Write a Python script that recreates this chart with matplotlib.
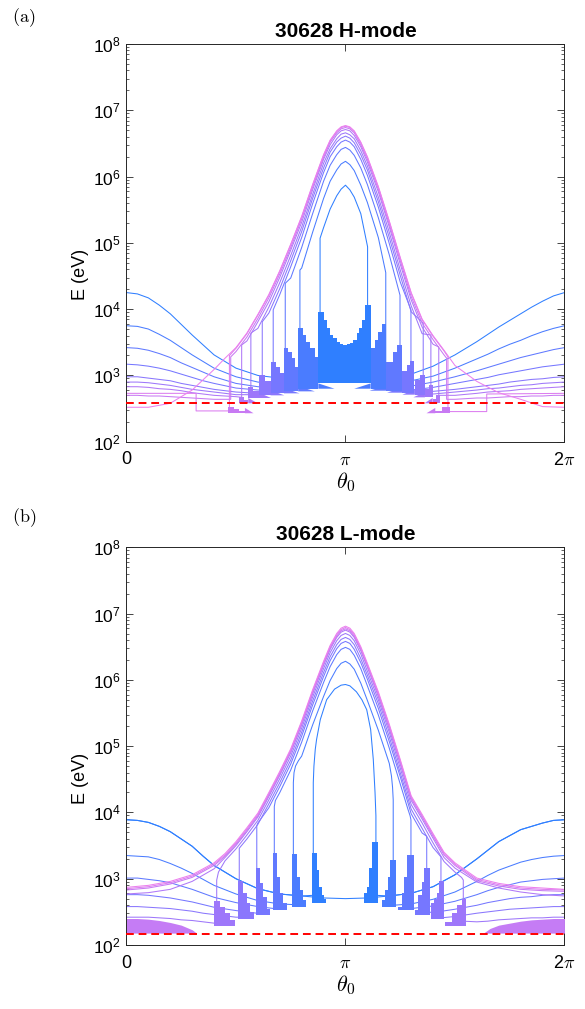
import numpy as np
import matplotlib
matplotlib.use("Agg")
import matplotlib.pyplot as plt
from matplotlib.ticker import LogLocator, NullFormatter

plt.rcParams["font.family"] = ["Liberation Sans", "DejaVu Sans"]

nan = np.nan

# -------------------------------
# Data (theta in units of pi, energies as log10(E / eV))
# -------------------------------
theta_low = [0.0, 0.05, 0.1, 0.15, 0.2, 0.25, 0.3, 0.35, 0.4, 0.5, 0.6, 0.7, 0.8, 0.9, 1.0,
             1.1, 1.2, 1.3, 1.4, 1.5, 1.6, 1.65, 1.7, 1.75, 1.8, 1.85, 1.9, 1.95, 2.0]
theta_up = [0.45, 0.5, 0.55, 0.6, 0.65, 0.7, 0.75, 0.8, 0.85, 0.9, 0.93, 0.96, 0.98,
            1.0, 1.02, 1.04, 1.07, 1.1, 1.15, 1.2, 1.25, 1.3, 1.35, 1.4, 1.45, 1.5]
theta_full = [0.0, 0.1, 0.2, 0.3, 0.4] + theta_up + [1.6, 1.7, 1.8, 1.9, 2.0]

colors = ["#2f7fff", "#4a7cff", "#6079ff", "#7677ff", "#8a77fd",
          "#9e77fa", "#b078f7", "#c87af3", "#dc7df0", "#ec80ee"]

# ---- panel (a): 30628 H-mode ----
a_low = [
    [4.25, 4.23, 4.17, 4.06, 3.93, 3.77, 3.61, 3.46, 3.31, 3.11, 3.00, 2.96, 2.93, 2.92, 2.91,
     2.93, 2.96, 3.02, 3.14, 3.31, 3.51, 3.62, 3.73, 3.83, 3.93, 4.03, 4.12, 4.20, 4.25],
    [3.75, 3.74, 3.70, 3.62, 3.53, 3.42, 3.31, 3.21, 3.11, 2.98, 2.90, 2.87, 2.85, 2.85, 2.84,
     2.85, 2.87, 2.92, 2.99, 3.11, 3.25, 3.32, 3.40, 3.47, 3.53, 3.60, 3.66, 3.71, 3.75],
    [3.42, 3.41, 3.38, 3.33, 3.27, 3.19, 3.12, 3.05, 2.98, 2.88, 2.83, 2.81, 2.80, 2.79, 2.79,
     2.80, 2.81, 2.84, 2.90, 2.98, 3.07, 3.12, 3.17, 3.22, 3.27, 3.31, 3.35, 3.39, 3.42],
    [3.17, 3.16, 3.14, 3.11, 3.07, 3.02, 2.97, 2.92, 2.88, 2.81, 2.78, 2.76, 2.76, 2.75, 2.75,
     2.76, 2.77, 2.78, 2.82, 2.88, 2.94, 2.97, 3.01, 3.04, 3.07, 3.10, 3.13, 3.15, 3.17],
    [2.98, 2.98, 2.96, 2.94, 2.92, 2.88, 2.85, 2.82, 2.79, 2.75, 2.73, 2.72, 2.71, 2.71, 2.71,
     2.71, 2.72, 2.73, 2.76, 2.79, 2.83, 2.85, 2.87, 2.90, 2.92, 2.94, 2.95, 2.97, 2.98],
    [2.90, 2.90, 2.89, 2.87, 2.85, 2.82, 2.79, 2.77, 2.75, 2.71, 2.70, 2.69, 2.68, 2.68, 2.68,
     2.68, 2.69, 2.70, 2.72, 2.75, 2.78, 2.80, 2.81, 2.83, 2.85, 2.86, 2.88, 2.89, 2.90],
    [2.83, 2.83, 2.82, 2.80, 2.79, 2.77, 2.74, 2.72, 2.70, 2.68, 2.66, 2.66, 2.65, 2.65, 2.65,
     2.65, 2.66, 2.66, 2.68, 2.70, 2.73, 2.75, 2.76, 2.77, 2.79, 2.80, 2.81, 2.82, 2.83],
    [2.70, 2.70, 2.69, 2.69, 2.68, 2.67, 2.66, 2.65, 2.64, 2.63, 2.63, 2.62, 2.62, 2.62, 2.62,
     2.62, 2.62, 2.63, 2.63, 2.64, 2.66, 2.66, 2.67, 2.68, 2.68, 2.69, 2.69, 2.70, 2.70],
]
a_up = [
    [nan, nan, nan, nan, nan, nan, nan, nan, nan, 5.23, 5.51, 5.71, 5.81, 5.87, 5.80, 5.69, 5.44, nan, nan, nan, nan, nan, nan, nan, nan, nan],
    [nan, nan, nan, nan, nan, nan, nan, 4.62, 5.16, 5.67, 5.93, 6.10, 6.19, 6.23, 6.18, 6.09, 5.87, 5.61, 5.08, nan, nan, nan, nan, nan, nan, nan],
    [nan, nan, nan, nan, nan, nan, 4.47, 4.93, 5.44, 5.93, 6.17, 6.33, 6.41, 6.44, 6.40, 6.32, 6.13, 5.88, 5.38, 4.82, nan, nan, nan, nan, nan, nan],
    [nan, nan, nan, nan, nan, 4.22, 4.64, 5.08, 5.59, 6.06, 6.30, 6.45, 6.52, 6.55, 6.52, 6.45, 6.26, 6.02, 5.54, 4.99, 4.41, nan, nan, nan, nan, nan],
    [nan, nan, nan, nan, 3.94, 4.31, 4.73, 5.17, 5.67, 6.13, 6.37, 6.52, 6.58, 6.61, 6.58, 6.51, 6.33, 6.10, 5.62, 5.08, 4.51, 3.96, nan, nan, nan, nan],
    [nan, nan, nan, 3.71, 4.03, 4.40, 4.81, 5.24, 5.73, 6.20, 6.42, 6.57, 6.64, 6.66, 6.63, 6.57, 6.39, 6.16, 5.69, 5.16, 4.59, 4.05, 3.63, nan, nan, nan],
    [nan, nan, 3.52, 3.81, 4.11, 4.48, 4.89, 5.31, 5.80, 6.26, 6.48, 6.63, 6.69, 6.71, 6.69, 6.62, 6.45, 6.22, 5.77, 5.24, 4.68, 4.14, 3.73, 3.47, nan, nan],
    [nan, 3.36, 3.58, 3.86, 4.17, 4.53, 4.93, 5.36, 5.84, 6.29, 6.52, 6.66, 6.72, 6.74, 6.72, 6.66, 6.48, 6.26, 5.81, 5.28, 4.73, 4.19, 3.79, 3.54, 3.31, nan],
    [nan, 3.41, 3.63, 3.91, 4.21, 4.57, 4.97, 5.39, 5.87, 6.32, 6.54, 6.68, 6.74, 6.76, 6.74, 6.68, 6.51, 6.29, 5.84, 5.32, 4.77, 4.24, 3.84, 3.59, 3.37, nan],
]
a_jump_l = [0.884, 0.792, 0.725, 0.670, 0.620, 0.568, 0.526, 0.476]
a_jump_r = [1.101, 1.184, 1.249, 1.299, 1.355, 1.390, 1.426, 1.462]
a_bot_l = [2.92, 2.85, 2.81, 2.77, 2.73, 2.71, 2.67, 2.64]
a_bot_r = [2.93, 2.87, 2.83, 2.78, 2.74, 2.73, 2.70, 2.64]
a_top_l = [5.07, 4.59, 4.39, 3.99, 3.81, 3.64, 3.46, 3.28]
a_top_r = [4.94, 4.55, 4.21, 3.99, 3.79, 3.61, 3.43, 3.26]

# ninth curve (plateaus at the edges)
a9_left_t = [0.0, 0.318, 0.318, 0.466, 0.47, 0.47]
a9_left_v = [2.73, 2.73, 2.465, 2.465, 2.44, 3.30]
a9_right_t = [1.468, 1.468, 1.47, 1.645, 1.645, 2.0]
a9_right_v = [3.28, 2.44, 2.455, 2.455, 2.72, 2.73]
# outermost curve
a10 = [2.52, 2.52, 2.58, 2.78, 3.09, 3.26, 3.42, 3.64, 3.92, 4.22, 4.58, 4.98, 5.40, 5.88, 6.33, 6.55, 6.69, 6.75,
       6.77, 6.75, 6.69, 6.52, 6.30, 5.85, 5.33, 4.78, 4.25, 3.85, 3.60, 3.38, 3.15, 2.91, 2.74, 2.64, 2.53, 2.52]

# staircase bands (edges, tops, base, curve index, tail tip)
a_fill_edges = [
    [0.876, 0.902, 0.914, 0.929, 0.944, 0.960, 0.975, 0.990, 1.005, 1.021, 1.036, 1.051, 1.063, 1.074, 1.089, 1.115],
    [0.784, 0.807, 0.822, 0.838, 0.860, 0.876], [1.115, 1.135, 1.150, 1.165, 1.184],
    [0.719, 0.739, 0.754, 0.769, 0.784], [1.187, 1.218, 1.237, 1.257],
    [0.658, 0.685, 0.700, 0.719], [1.259, 1.279, 1.296, 1.313],
    [0.605, 0.632, 0.658], [1.317, 1.340, 1.363],
    [0.556, 0.580, 0.605], [1.363, 1.380, 1.398],
    [0.514, 0.535, 0.556], [1.398, 1.415, 1.432],
    [0.465, 0.490, 0.515, 0.541], [1.410, 1.440, 1.477],
]
a_fill_tops = [
    [3.95, 3.84, 3.71, 3.61, 3.56, 3.51, 3.47, 3.46, 3.47, 3.49, 3.54, 3.64, 3.71, 3.84, 4.06],
    [3.72, 3.61, 3.51, 3.41, 3.28], [3.41, 3.54, 3.66, 3.77],
    [3.41, 3.36, 3.26, 3.13], [3.21, 3.36, 3.46],
    [3.21, 3.12, 3.03], [3.06, 3.16, 3.22],
    [3.01, 2.91], [2.93, 3.01],
    [2.83, 2.76], [2.80, 2.86],
    [2.68, 2.63], [2.64, 2.70],
    [2.52, 2.49, 2.46], [2.47, 2.52],
]
a_fill_base = [2.88, 2.80, 2.80, 2.76, 2.77, 2.73, 2.74, 2.70, 2.71, 2.66, 2.67, 2.58, 2.58, 2.43, 2.43]
a_fill_curve = [0, 1, 1, 2, 2, 3, 3, 4, 4, 5, 5, 6, 6, 7, 7]
a_tail_tip = [nan, 0.95, 1.04, 0.86, 1.11, 0.79, 1.19, 0.72, 1.26, 0.66, 1.31, 0.60, 1.36, 0.58, 1.37]
a_tail_h = 0.08
a_ref = 2.58

# ---- panel (b): 30628 L-mode ----
b_low = [
    [3.89, 3.88, 3.85, 3.79, 3.71, 3.60, 3.49, 3.34, 3.20, 3.00, 2.85, 2.77, 2.74, 2.71, 2.70,
     2.71, 2.74, 2.78, 2.88, 3.06, 3.30, 3.43, 3.56, 3.65, 3.74, 3.79, 3.84, 3.88, 3.89],
    [3.35, 3.34, 3.33, 3.29, 3.23, 3.16, 3.08, 2.99, 2.90, 2.77, 2.67, 2.62, 2.59, 2.58, 2.57,
     2.58, 2.59, 2.62, 2.69, 2.80, 2.96, 3.05, 3.13, 3.19, 3.25, 3.29, 3.32, 3.34, 3.35],
    [3.01, 3.01, 2.99, 2.97, 2.94, 2.89, 2.84, 2.78, 2.72, 2.64, 2.58, 2.54, 2.53, 2.52, 2.51,
     2.52, 2.53, 2.55, 2.59, 2.66, 2.76, 2.82, 2.87, 2.91, 2.95, 2.97, 2.99, 3.00, 3.01],
    [2.76, 2.76, 2.75, 2.73, 2.71, 2.68, 2.65, 2.61, 2.57, 2.52, 2.48, 2.46, 2.45, 2.44, 2.44,
     2.44, 2.45, 2.46, 2.49, 2.54, 2.60, 2.64, 2.67, 2.70, 2.72, 2.73, 2.75, 2.76, 2.76],
    [2.58, 2.58, 2.57, 2.56, 2.55, 2.53, 2.51, 2.48, 2.46, 2.42, 2.40, 2.38, 2.38, 2.37, 2.37,
     2.37, 2.38, 2.38, 2.40, 2.43, 2.48, 2.50, 2.52, 2.54, 2.55, 2.56, 2.57, 2.58, 2.58],
    [2.42, 2.42, 2.42, 2.41, 2.40, 2.38, 2.37, 2.35, 2.33, 2.31, 2.29, 2.28, 2.27, 2.27, 2.27,
     2.27, 2.27, 2.28, 2.29, 2.32, 2.35, 2.36, 2.38, 2.39, 2.40, 2.41, 2.41, 2.42, 2.42],
]
b_up_t = [
    [0.856, 0.862, 0.868, 0.885, 0.914, 0.95, 0.98, 1.0, 1.02, 1.05, 1.075, 1.097, 1.115, 1.127, 1.135],
    [0.765, 0.772, 0.785, 0.8, 0.85, 0.9, 0.93, 0.96, 0.98, 1.0, 1.02, 1.04, 1.07, 1.1, 1.15, 1.2, 1.21, 1.215],
    [0.68, 0.69, 0.7, 0.75, 0.8, 0.85, 0.9, 0.93, 0.96, 0.98, 1.0, 1.02, 1.04, 1.07, 1.1, 1.15, 1.2, 1.25, 1.285, 1.295],
    [0.6, 0.65, 0.7, 0.75, 0.8, 0.85, 0.9, 0.93, 0.96, 0.98, 1.0, 1.02, 1.04, 1.07, 1.1, 1.15, 1.2, 1.25, 1.3, 1.35],
    [0.55, 0.6, 0.65, 0.7, 0.75, 0.8, 0.85, 0.9, 0.93, 0.96, 0.98, 1.0, 1.02, 1.04, 1.07, 1.1, 1.15, 1.2, 1.25, 1.3, 1.35, 1.4],
    [0.42, 0.45, 0.5, 0.55, 0.6, 0.65, 0.7, 0.75, 0.8, 0.85, 0.9, 0.93, 0.96, 0.98, 1.0, 1.02, 1.04, 1.07, 1.1,
     1.15, 1.2, 1.25, 1.3, 1.35, 1.4, 1.45, 1.5, 1.53],
]
b_up_v = [
    [4.70, 4.95, 5.10, 5.40, 5.70, 5.86, 5.92, 5.93, 5.91, 5.82, 5.70, 5.55, 5.25, 4.80, 4.30],
    [4.60, 4.70, 4.78, 4.85, 5.32, 5.75, 5.99, 6.17, 6.25, 6.28, 6.24, 6.16, 5.95, 5.69, 5.24, 4.74, 4.55, 4.38],
    [4.18, 4.24, 4.30, 4.64, 5.06, 5.53, 5.96, 6.20, 6.38, 6.46, 6.49, 6.46, 6.37, 6.17, 5.91, 5.47, 4.97, 4.43, 4.05, 3.95],
    [3.84, 4.07, 4.39, 4.73, 5.15, 5.62, 6.05, 6.29, 6.47, 6.55, 6.58, 6.55, 6.46, 6.26, 6.01, 5.57, 5.07, 4.54, 3.98, 3.69],
    [3.60, 3.82, 4.13, 4.45, 4.79, 5.21, 5.68, 6.11, 6.35, 6.53, 6.61, 6.64, 6.61, 6.53, 6.32, 6.07, 5.64, 5.14, 4.60, 4.05, 3.76, 3.47],
    [3.10, 3.27, 3.45, 3.66, 3.88, 4.19, 4.51, 4.85, 5.27, 5.74, 6.17, 6.41, 6.59, 6.67, 6.70, 6.67, 6.59, 6.39, 6.13,
     5.70, 5.21, 4.67, 4.12, 3.84, 3.54, 3.26, 3.10, 3.02],
]
b_jump_l = [0.853, 0.762, 0.675, 0.595, 0.515, 0.412]
b_jump_r = [1.139, 1.218, 1.299, 1.371, 1.436, 1.538]
b_bot_l = [2.75, 2.61, 2.55, 2.48, 2.42, 2.33]
b_bot_r = [2.75, 2.60, 2.54, 2.50, 2.41, 2.36]
b_top_l = [4.45, 4.45, 4.09, 3.80, 3.46, 2.98]
b_top_r = [3.95, 4.19, 3.89, 3.64, 3.33, 2.98]

# curves without a jump (on theta_full)
b_smooth = [
    [2.77, 2.79, 2.84, 2.96, 3.15, 3.32, 3.50, 3.71, 3.93, 4.24, 4.56, 4.90, 5.32, 5.79, 6.22, 6.46, 6.64, 6.72,
     6.75, 6.72, 6.64, 6.44, 6.19, 5.75, 5.26, 4.73, 4.18, 3.90, 3.61, 3.32, 3.16, 2.95, 2.86, 2.80, 2.76, 2.74],
    [2.83, 2.86, 2.92, 3.02, 3.20, 3.34, 3.52, 3.73, 3.95, 4.26, 4.58, 4.92, 5.34, 5.81, 6.24, 6.48, 6.66, 6.74,
     6.77, 6.74, 6.66, 6.46, 6.21, 5.78, 5.29, 4.76, 4.21, 3.93, 3.64, 3.36, 3.20, 2.97, 2.89, 2.84, 2.82, 2.81],
    [2.85, 2.88, 2.94, 3.04, 3.22, 3.36, 3.54, 3.75, 3.97, 4.28, 4.60, 4.94, 5.36, 5.83, 6.26, 6.50, 6.68, 6.76,
     6.79, 6.76, 6.68, 6.48, 6.23, 5.80, 5.31, 4.78, 4.23, 3.95, 3.66, 3.38, 3.22, 2.99, 2.91, 2.86, 2.84, 2.83],
    [2.87, 2.90, 2.96, 3.06, 3.24, 3.38, 3.56, 3.77, 3.99, 4.30, 4.62, 4.96, 5.38, 5.85, 6.28, 6.52, 6.70, 6.78,
     6.81, 6.78, 6.70, 6.50, 6.25, 5.82, 5.33, 4.80, 4.25, 3.97, 3.68, 3.40, 3.24, 3.01, 2.93, 2.88, 2.86, 2.84],
]

b_fill_edges = [
    [0.846, 0.868, 0.880, 0.893, 0.902, 0.911], [1.084, 1.097, 1.109, 1.120, 1.150],
    [0.754, 0.777, 0.792, 0.805, 0.820], [1.165, 1.180, 1.193, 1.203, 1.229],
    [0.667, 0.686, 0.701, 0.716, 0.734], [1.241, 1.257, 1.268, 1.279, 1.313],
    [0.590, 0.610, 0.625, 0.640, 0.655], [1.317, 1.332, 1.348, 1.358, 1.386],
    [0.508, 0.533, 0.549, 0.564, 0.582], [1.389, 1.404, 1.416, 1.428, 1.450],
    [0.401, 0.427, 0.450, 0.473, 0.495], [1.454, 1.485, 1.508, 1.531, 1.550],
]
b_fill_tops = [
    [3.39, 3.13, 2.88, 2.75, 2.70], [2.78, 2.88, 3.16, 3.55],
    [3.37, 3.03, 2.83, 2.68], [2.68, 2.83, 3.03, 3.28],
    [3.39, 3.03, 2.78, 2.63], [2.58, 2.78, 3.03, 3.36],
    [3.16, 2.93, 2.73, 2.55], [2.53, 2.75, 2.95, 3.16],
    [2.97, 2.78, 2.63, 2.50], [2.63, 2.70, 2.78, 2.97],
    [2.67, 2.58, 2.48, 2.38], [2.35, 2.48, 2.60, 2.70],
]
b_fill_base = [2.64, 2.64, 2.58, 2.58, 2.53, 2.53, 2.46, 2.46, 2.39, 2.39, 2.29, 2.29]
b_fill_curve = [0, 0, 1, 1, 2, 2, 3, 3, 4, 4, 5, 5]

# corner bands near the edges
b_corner_l_t = [0.0, 0.05, 0.1, 0.15, 0.2, 0.25, 0.3, 0.32]
b_corner_l_v = [2.40, 2.40, 2.39, 2.37, 2.34, 2.30, 2.23, 2.18]
b_corner_r_t = [1.63, 1.66, 1.7, 1.75, 1.8, 1.85, 1.9, 1.95, 2.0]
b_corner_r_v = [2.18, 2.25, 2.30, 2.33, 2.36, 2.38, 2.39, 2.40, 2.40]
b_corner_base = 2.18
b_ref = 2.167

LW = 0.75


def jump_curve(ax, low, jl, jr, bl, br, tl, tr, up_t, up_v, color):
    tlow = np.array(theta_low)
    low = np.array(low)
    up_t = np.array(up_t)
    up_v = np.array(up_v, dtype=float)
    m1 = tlow < jl
    m2 = tlow > jr
    m3 = (up_t > jl) & (up_t < jr) & np.isfinite(up_v)
    x = np.concatenate([tlow[m1], [jl, jl], up_t[m3], [jr, jr], tlow[m2]])
    y = np.concatenate([low[m1], [bl, tl], up_v[m3], [tr, br], low[m2]])
    ax.plot(x, 10 ** y, color=color, lw=LW, zorder=2)


def stair(ax, edges, tops, base, color, tip=nan, tail_h=0.0):
    xs = [edges[0]]
    ys = [base]
    for i in range(len(tops)):
        xs += [edges[i], edges[i + 1]]
        ys += [tops[i], tops[i]]
    xs.append(edges[-1])
    ys.append(base)
    ax.fill(xs, 10 ** np.array(ys), color=color, lw=0, zorder=3)
    if np.isfinite(tip):
        # thin wedge under the band, pointing towards the centre
        inner = edges[-1] if tip > edges[-1] else edges[0]
        ax.fill([inner, inner, tip], 10 ** np.array([base, base + tail_h, base]),
                color=color, lw=0, zorder=2.5)


def style_axes(ax, title):
    ax.set_yscale("log")
    ax.set_xlim(0, 2)
    ax.set_ylim(1e2, 1e8)
    ax.set_yticks([10.0 ** k for k in range(2, 9)])
    ax.set_yticklabels([r"$\mathregular{10^{%d}}$" % k for k in range(2, 9)], fontsize=12.5)
    ax.yaxis.set_minor_locator(LogLocator(base=10, subs=np.arange(2, 10)))
    ax.yaxis.set_minor_formatter(NullFormatter())
    ax.set_xticks([0, 1, 2])
    ax.set_xticklabels(["0", r"$\pi$", r"$\mathregular{2}\pi$"], fontsize=13)
    for lab in ax.get_xticklabels():
        lab.set_math_fontfamily("cm")
    ax.tick_params(which="both", direction="in", top=True, right=True, color="#262626")
    ax.tick_params(which="major", length=5, width=0.6)
    ax.tick_params(axis="y", which="major", pad=4)
    ax.tick_params(axis="x", which="major", pad=7)
    ax.tick_params(which="minor", length=2.5, width=0.5)
    for s in ax.spines.values():
        s.set_linewidth(0.7)
        s.set_color("#262626")
    ax.set_title(title, fontsize=15, fontweight="bold", pad=5)
    ax.set_ylabel("E (eV)", fontsize=13)
    ax.yaxis.set_label_coords(-0.085, 0.42)
    ax.set_xlabel(r"$\theta_0$", fontsize=16, math_fontfamily="cm", labelpad=1)


fig = plt.figure(figsize=(5.85, 10.09), dpi=100)
ax_a = fig.add_axes([0.2162, 0.5622, 0.7487, 0.3942])
ax_b = fig.add_axes([0.2162, 0.0634, 0.7487, 0.3942])

# -------------------------------
# Panel (a)
# -------------------------------
for k in range(8):
    jump_curve(ax_a, a_low[k], a_jump_l[k], a_jump_r[k], a_bot_l[k], a_bot_r[k],
               a_top_l[k], a_top_r[k], theta_up, a_up[k], colors[k])
tu = np.array(theta_up)
v9 = np.array(a_up[8])
m = np.isfinite(v9)
x9 = np.concatenate([a9_left_t, tu[m], a9_right_t])
y9 = np.concatenate([a9_left_v, v9[m], a9_right_v])
ax_a.plot(x9, 10 ** y9, color=colors[8], lw=LW, zorder=2)
ax_a.plot(theta_full, 10 ** np.array(a10), color=colors[9], lw=LW, zorder=2)
for e, t, b, c, tip in zip(a_fill_edges, a_fill_tops, a_fill_base, a_fill_curve, a_tail_tip):
    stair(ax_a, e, t, b, colors[c], tip, a_tail_h)
ax_a.axhline(10 ** a_ref, color="#ff0000", lw=1.4, ls=(0, (4, 2.5)), zorder=4)
style_axes(ax_a, "30628 H-mode")

# -------------------------------
# Panel (b)
# -------------------------------
ax_b.plot(theta_low, 10 ** np.array(b_low[0]), color=colors[0], lw=LW, zorder=2)
for k in range(6):
    jump_curve(ax_b, b_low[k], b_jump_l[k], b_jump_r[k], b_bot_l[k], b_bot_r[k],
               b_top_l[k], b_top_r[k], b_up_t[k], b_up_v[k], colors[k])
for k, vals in enumerate(b_smooth):
    ax_b.plot(theta_full, 10 ** np.array(vals), color=colors[6 + k], lw=LW, zorder=2)
for e, t, b, c in zip(b_fill_edges, b_fill_tops, b_fill_base, b_fill_curve):
    stair(ax_b, e, t, b, colors[c])
ax_b.fill_between(b_corner_l_t, 10 ** b_corner_base, 10 ** np.array(b_corner_l_v),
                  color="#c57cf5", lw=0, zorder=3)
ax_b.fill_between(b_corner_r_t, 10 ** b_corner_base, 10 ** np.array(b_corner_r_v),
                  color="#c57cf5", lw=0, zorder=3)
ax_b.axhline(10 ** b_ref, color="#ff0000", lw=1.4, ls=(0, (4, 2.5)), zorder=4)
style_axes(ax_b, "30628 L-mode")

fig.text(12 / 585, 1 - 18 / 1009, r"$\mathrm{(a)}$", fontsize=13, math_fontfamily="cm", va="center")
fig.text(12 / 585, 1 - 518 / 1009, r"$\mathrm{(b)}$", fontsize=13, math_fontfamily="cm", va="center")

fig.savefig("out.png", dpi=100)
